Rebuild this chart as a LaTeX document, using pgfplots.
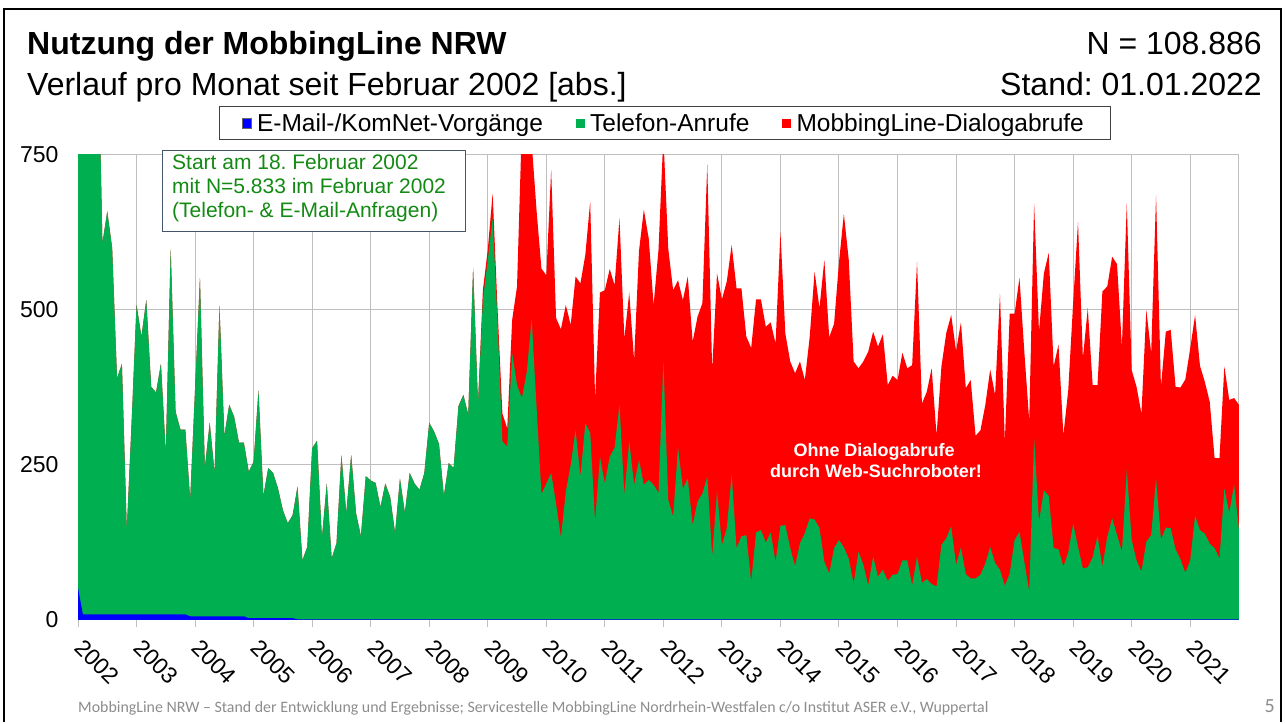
\documentclass[border=0pt]{standalone}
\usepackage{fontspec}
\setmainfont{Liberation Sans}
\newfontfamily\calibri{Carlito}
\usepackage{pgfplots}
\usepackage{pgfplotstable}
\pgfplotsset{compat=1.18}
\definecolor{xlgreen}{HTML}{00B050}
\definecolor{xlred}{HTML}{FF0000}
\definecolor{xlblue}{HTML}{0000FF}
\definecolor{notegreen}{HTML}{138A13}
\definecolor{boxslate}{HTML}{44546A}
\definecolor{footgrey}{HTML}{8C8C8C}
\definecolor{gridgrey}{HTML}{BFBFBF}

% m = months since Feb 2002; top = total, mid = E-Mail + Telefon, em = E-Mail
\pgfplotstableread{
m top mid em
0 5833 5833 52
1 1300 1300 9
2 1100 1100 9
3 950 950 9
4 1000 1000 9
5 607 607 9
6 659 659 9
7 600 600 9
8 390 390 9
9 413 413 9
10 145 145 9
11 320 320 9
12 508 508 9
13 457 457 9
14 516 516 9
15 376 376 9
16 367 367 9
17 413 413 9
18 269 269 9
19 598 598 9
20 336 336 9
21 307 307 9
22 307 307 9
23 194 194 6
24 373 373 6
25 552 552 6
26 245 245 6
27 318 318 6
28 237 237 6
29 507 507 6
30 297 297 6
31 347 347 6
32 328 328 6
33 286 286 6
34 286 286 6
35 239 239 3
36 255 255 3
37 370 370 3
38 200 200 3
39 245 245 3
40 237 237 3
41 212 212 3
42 177 177 3
43 156 156 3
44 169 169 3
45 215 215 1
46 96 96 1
47 118 118 1
48 277 277 1
49 289 289 1
50 132 132 1
51 220 220 1
52 99 99 1
53 124 124 1
54 266 266 1
55 172 172 1
56 266 266 1
57 172 172 1
58 135 135 1
59 232 232 1
60 225 225 1
61 221 221 1
62 182 182 1
63 220 220 1
64 198 198 1
65 140 140 1
66 228 228 1
67 173 173 1
68 237 237 1
69 220 220 1
70 210 210 1
71 237 237 1
72 318 318 1
73 304 304 1
74 284 284 1
75 200 200 1
76 253 253 1
77 245 245 1
78 345 345 1
79 363 363 1
80 331 331 1
81 567 567 1
82 349 349 1
83 532 516 1
84 597 580 1
85 688 648 1
86 503 481 1
87 333 288 1
88 309 280 1
89 484 430 1
90 538 379 1
91 800 358 1
92 800 400 1
93 770 485 1
94 661 344 1
95 567 203 1
96 556 220 1
97 726 237 1
98 487 188 1
99 469 133 1
100 508 207 1
101 476 250 1
102 554 306 1
103 543 231 1
104 589 317 1
105 675 302 1
106 358 159 1
107 528 263 1
108 532 220 1
109 566 263 1
110 540 278 1
111 648 347 1
112 454 202 1
113 528 288 1
114 419 218 1
115 595 258 1
116 662 218 1
117 615 226 1
118 508 218 1
119 597 205 1
120 780 417 1
121 599 194 1
122 532 167 1
123 548 278 1
124 516 212 1
125 554 228 1
126 449 153 1
127 489 191 1
128 511 204 1
129 735 231 1
130 403 103 1
131 559 207 1
132 517 121 1
133 546 148 1
134 605 234 1
135 535 116 1
136 535 135 1
137 457 137 1
138 439 62 1
139 517 141 1
140 517 145 1
141 473 125 1
142 480 141 1
143 446 94 1
144 626 152 1
145 462 153 1
146 417 116 1
147 398 87 1
148 417 124 1
149 387 140 1
150 457 164 1
151 562 162 1
152 503 148 1
153 581 94 1
154 456 75 1
155 478 116 1
156 577 129 1
157 655 117 1
158 581 99 1
159 417 59 1
160 406 110 1
161 417 89 1
162 433 56 1
163 465 102 1
164 441 70 1
165 461 81 1
166 379 63 1
167 394 73 1
168 387 74 1
169 431 96 1
170 406 96 1
171 411 56 1
172 578 102 1
173 349 60 1
174 368 66 1
175 406 58 1
176 298 54 1
177 409 121 1
178 463 132 1
179 492 151 1
180 434 89 1
181 480 117 1
182 374 74 1
183 387 67 1
184 297 67 1
185 306 73 1
186 347 91 1
187 404 118 1
188 363 92 1
189 526 81 1
190 288 55 1
191 494 75 1
192 494 129 1
193 552 142 1
194 432 94 1
195 321 46 1
196 672 293 1
197 465 159 1
198 559 209 1
199 592 200 1
200 409 116 1
201 444 114 1
202 298 86 1
203 371 109 1
204 511 155 1
205 642 118 1
206 422 83 1
207 503 85 1
208 379 101 1
209 379 135 1
210 530 86 1
211 538 134 1
212 586 164 1
213 574 137 1
214 441 110 1
215 672 242 1
216 403 129 1
217 376 96 1
218 333 78 1
219 500 126 1
220 431 137 1
221 685 228 1
222 376 130 1
223 465 149 1
224 468 148 1
225 376 114 1
226 375 98 1
227 388 76 1
228 438 96 1
229 492 168 1
230 410 145 1
231 384 139 1
232 352 123 1
233 261 116 1
234 261 99 1
235 409 212 1
236 355 173 1
237 358 218 1
238 347 145 1
}\mobdata

\begin{document}
\frenchspacing
\begin{tikzpicture}[x=1pt,y=1pt]
\path (0,0) rectangle (1285,722);
\begin{axis}[
  set layers,
  at={(78pt,102pt)}, anchor=south west,
  scale only axis, width=1161pt, height=465pt,
  xmin=0, xmax=238, ymin=0, ymax=750,
  xtick={0,12,24,36,48,60,72,84,96,108,120,132,144,156,168,180,192,204,216,228},
  xticklabels={2002,2003,2004,2005,2006,2007,2008,2009,2010,2011,2012,2013,2014,2015,2016,2017,2018,2019,2020,2021},
  ytick={0,250,500,750},
  grid=major,
  grid style={gridgrey, line width=1pt},
  axis line style={gridgrey, line width=1pt},
  tick pos=lower,
  xtick align=outside,
  major tick length=7pt,
  xtick style={gridgrey, line width=1pt},
  ytick style={draw=none},
  /pgf/number format/assume math mode=true,
  ticklabel style={font=\fontsize{23}{23}\selectfont, text=black},
  yticklabel style={anchor=east, xshift=-16pt},
  xticklabel style={xshift=7pt, yshift=-6pt, rotate=-45, anchor=north west},
  legend columns=3,
  legend style={at={(rel axis cs:0.506,1.0688)}, anchor=center,
    draw=black!75, line width=1pt, fill=white,
    font=\fontsize{24.5}{24.5}\selectfont,
    inner xsep=22pt, inner ysep=4.5pt,
    /tikz/every even column/.append style={column sep=27pt},
    nodes={inner xsep=5pt, inner ysep=2pt}},
  legend image code/.code={\draw[#1, line width=0.6pt] (0pt,-4.8pt) rectangle (9.5pt,4.8pt);},
]
\addplot[fill=xlred, draw=none, forget plot] table[x=m,y=top] {\mobdata} \closedcycle;
\addplot[fill=xlgreen, draw=none, forget plot] table[x=m,y=mid] {\mobdata} \closedcycle;
\addplot[fill=xlblue, draw=none, forget plot] table[x=m,y=em] {\mobdata} \closedcycle;
\addlegendimage{fill=xlblue, draw=black!60}
\addlegendentry{E-Mail-/KomNet-Vorgänge}
\addlegendimage{fill=xlgreen, draw=white}
\addlegendentry{Telefon-Anrufe}
\addlegendimage{fill=xlred, draw=white}
\addlegendentry{MobbingLine-Dialogabrufe}
\end{axis}
% frame
\draw[black, line width=2pt] (4,0) -- (4,713) -- (1281,713) -- (1281,0);
% titles
\node[anchor=base west, inner sep=0pt, font=\fontsize{32}{32}\selectfont\bfseries] at (27,667) {Nutzung der MobbingLine NRW};
\node[anchor=base west, inner sep=0pt, font=\fontsize{32}{32}\selectfont] at (27,626) {Verlauf pro Monat seit Februar 2002 [abs.]};
\node[anchor=base east, inner sep=0pt, font=\fontsize{32}{32}\selectfont] at (1262,667) {N = 108.886};
\node[anchor=base east, inner sep=0pt, font=\fontsize{32}{32}\selectfont] at (1262,626) {Stand: 01.01.2022};
% annotation box
\draw[boxslate, line width=1pt, fill=white] (162,490) rectangle (465,571);
\node[anchor=base west, inner sep=0pt, text=notegreen, font=\fontsize{21}{21}\selectfont] at (172,552) {Start am 18. Februar 2002};
\node[anchor=base west, inner sep=0pt, text=notegreen, font=\fontsize{21}{21}\selectfont] at (172,528) {mit N=5.833 im Februar 2002};
\node[anchor=base west, inner sep=0pt, text=notegreen, font=\fontsize{21}{21}\selectfont] at (172,504) {(Telefon- \& E-Mail-Anfragen)};
% note in red area
\node[anchor=base, inner sep=0pt, text=white, font=\fontsize{18}{18}\selectfont\bfseries] at (874,265) {Ohne Dialogabrufe};
\node[anchor=base, inner sep=0pt, text=white, font=\fontsize{18}{18}\selectfont\bfseries] at (876,244) {durch Web-Suchroboter!};
% footer
\node[anchor=base west, inner sep=0pt, text=footgrey, font=\calibri\fontsize{15.9}{15.9}\selectfont] at (78,10) {MobbingLine NRW – Stand der Entwicklung und Ergebnisse; Servicestelle MobbingLine Nordrhein-Westfalen c/o Institut ASER e.V., Wuppertal};
\node[anchor=base east, inner sep=0pt, text=footgrey, font=\calibri\fontsize{20}{20}\selectfont] at (1275,10) {5};
\end{tikzpicture}
\end{document}
